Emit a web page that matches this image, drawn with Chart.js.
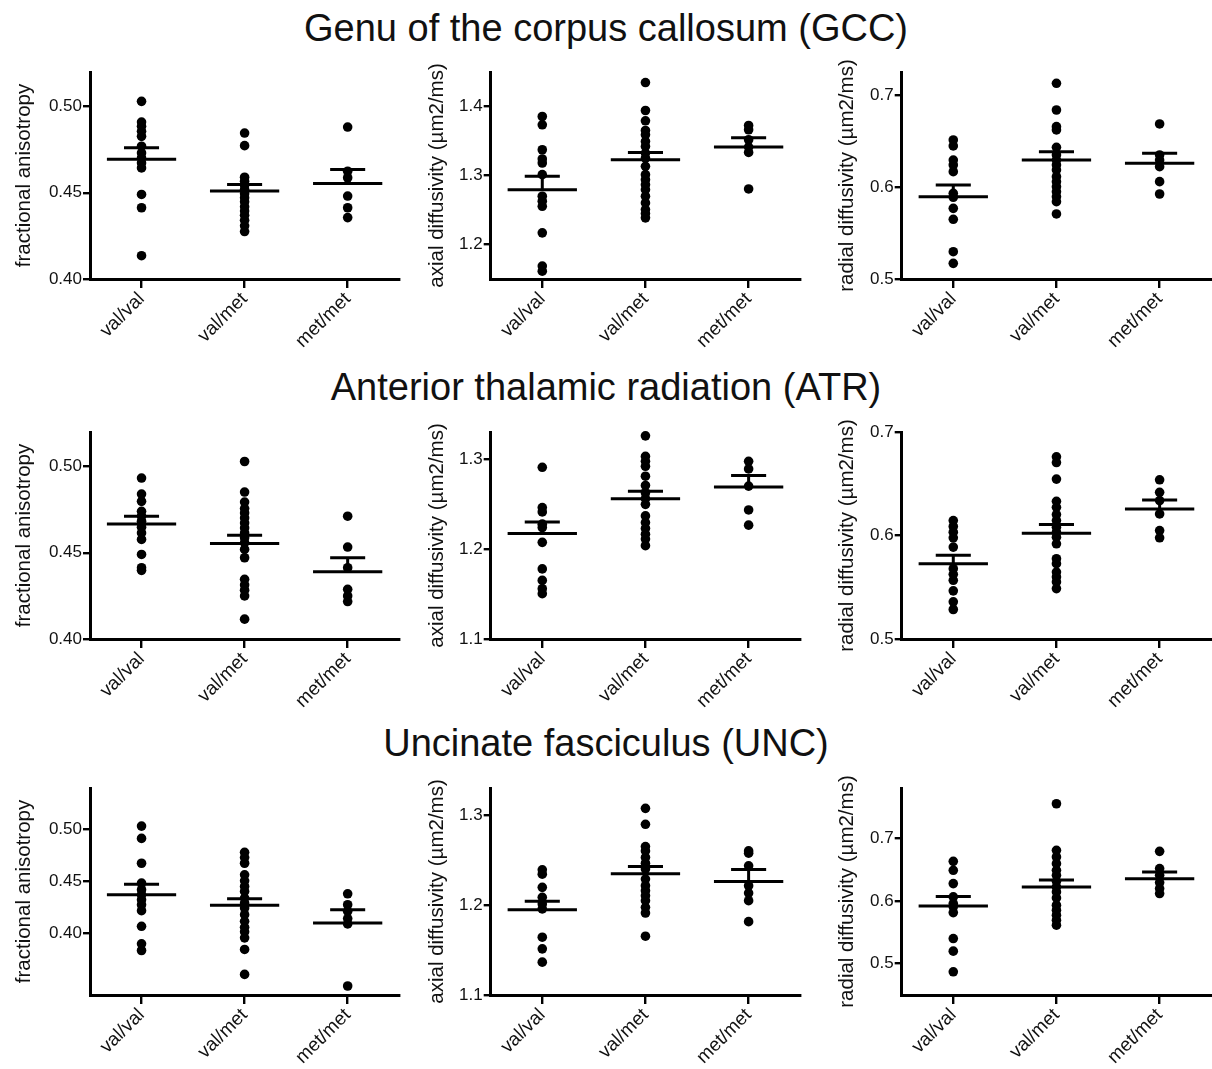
<!DOCTYPE html>
<html>
<head>
<meta charset="utf-8">
<script src="https://cdn.jsdelivr.net/npm/chart.js@4.4.1/dist/chart.umd.min.js"></script>
<style>
  body { margin: 0; background: #fff; width: 1212px; height: 1069px; position: relative; overflow: hidden; }
  canvas { position: absolute; }
  .row-title { position: absolute; left: 0; width: 1212px; text-align: center; font-family: "Liberation Sans", Arial, sans-serif; font-size: 38px; line-height: 38px; color: #111; }
</style>
</head>
<body>
<div class="row-title" style="top:9px">Genu of the corpus callosum (GCC)</div>
<div class="row-title" style="top:368px">Anterior thalamic radiation (ATR)</div>
<div class="row-title" style="top:724px">Uncinate fasciculus (UNC)</div>

<canvas id="gcc-fa"></canvas>
<canvas id="gcc-ad"></canvas>
<canvas id="gcc-rd"></canvas>
<canvas id="atr-fa"></canvas>
<canvas id="atr-ad"></canvas>
<canvas id="atr-rd"></canvas>
<canvas id="unc-fa"></canvas>
<canvas id="unc-ad"></canvas>
<canvas id="unc-rd"></canvas>

<script>
const groups = ["val/val", "val/met", "met/met"];

// GCC
const gccFA = [
    [0.503, 0.491, 0.4885, 0.4856, 0.4827, 0.477, 0.4731, 0.4702, 0.4673, 0.4644, 0.449, 0.4413, 0.4135],
    [0.4846, 0.4773, 0.459, 0.4567, 0.4544, 0.4519, 0.4494, 0.4471, 0.4448, 0.4419, 0.4394, 0.4369, 0.434, 0.4308, 0.4275],
    [0.4881, 0.4625, 0.4587, 0.4481, 0.4413, 0.4356]
];
const gccFAMean = [0.4694, 0.451, 0.4554];
const gccFASem = [0.4761, 0.4548, 0.4635];

const gccAD = [
    [1.3855, 1.3735, 1.3373, 1.3239, 1.3181, 1.3012, 1.2699, 1.2627, 1.2554, 1.2169, 1.1687, 1.1614],
    [1.4347, 1.3942, 1.3793, 1.3653, 1.359, 1.3494, 1.3422, 1.3325, 1.3253, 1.3133, 1.3012, 1.294, 1.2867, 1.2795, 1.2699, 1.2602, 1.2506, 1.2448, 1.2386],
    [1.3725, 1.3663, 1.3518, 1.3412, 1.3335, 1.2805]
];
const gccADMean = [1.2795, 1.3229, 1.3412];
const gccADSem = [1.2988, 1.3335, 1.3547];

const gccRD = [
    [0.6511, 0.6446, 0.6293, 0.6239, 0.6167, 0.5931, 0.5888, 0.5768, 0.5649, 0.5297, 0.517],
    [0.7127, 0.6837, 0.6656, 0.662, 0.6431, 0.6348, 0.6293, 0.6239, 0.6185, 0.6112, 0.6058, 0.6004, 0.5949, 0.5895, 0.5841, 0.5707],
    [0.6685, 0.6348, 0.6293, 0.6221, 0.6058, 0.5924]
];
const gccRDMean = [0.5895, 0.6293, 0.6257];
const gccRDSem = [0.6022, 0.6384, 0.6366];

// ATR
const atrFA = [
    [0.4933, 0.484, 0.4798, 0.474, 0.4712, 0.4683, 0.4648, 0.4615, 0.4577, 0.449, 0.4413, 0.4398],
    [0.5029, 0.4852, 0.4794, 0.4756, 0.4731, 0.4702, 0.4673, 0.4644, 0.4615, 0.4587, 0.4558, 0.4519, 0.4471, 0.4346, 0.4313, 0.4283, 0.425, 0.4115],
    [0.4712, 0.4533, 0.4413, 0.4288, 0.425, 0.4217]
];
const atrFAMean = [0.4667, 0.4554, 0.439];
const atrFASem = [0.4712, 0.4602, 0.4471];

const atrAD = [
    [1.2908, 1.246, 1.2412, 1.2276, 1.2239, 1.2074, 1.1779, 1.1651, 1.1559, 1.1504],
    [1.3257, 1.3029, 1.2974, 1.2919, 1.2809, 1.2706, 1.2625, 1.2559, 1.2496, 1.2368, 1.2294, 1.2228, 1.2165, 1.211, 1.2037],
    [1.2974, 1.289, 1.2699, 1.2434, 1.2265]
];
const atrADMean = [1.2173, 1.2559, 1.2688];
const atrADSem = [1.2301, 1.2643, 1.2816];

const atrRD = [
    [0.6144, 0.6087, 0.6032, 0.5978, 0.5888, 0.5679, 0.5625, 0.5567, 0.5465, 0.5359, 0.5285],
    [0.676, 0.6705, 0.6545, 0.633, 0.6272, 0.6202, 0.6144, 0.608, 0.6032, 0.5984, 0.592, 0.5776, 0.5728, 0.5647, 0.5599, 0.5551, 0.5487],
    [0.6538, 0.6417, 0.6337, 0.6208, 0.6048, 0.5978]
];
const atrRDMean = [0.5728, 0.6022, 0.6256];
const atrRDSem = [0.5808, 0.6106, 0.6343];

// UNC
const uncFA = [
    [0.5032, 0.4913, 0.4673, 0.4481, 0.4417, 0.4369, 0.4321, 0.4272, 0.4215, 0.4064, 0.3894, 0.383],
    [0.4779, 0.4728, 0.4673, 0.4561, 0.4503, 0.4449, 0.4401, 0.4337, 0.4288, 0.424, 0.4176, 0.4112, 0.4054, 0.401, 0.3952, 0.384, 0.3599],
    [0.4378, 0.4272, 0.4208, 0.4138, 0.4087, 0.3487]
];
const uncFAMean = [0.4369, 0.4266, 0.4096];
const uncFASem = [0.4471, 0.433, 0.4224];

const uncAD = [
    [1.2391, 1.2343, 1.2196, 1.2085, 1.2011, 1.1956, 1.1642, 1.1513, 1.1365],
    [1.3074, 1.2897, 1.2649, 1.2601, 1.2528, 1.2465, 1.2399, 1.2288, 1.2214, 1.2159, 1.2103, 1.2048, 1.1974, 1.1911, 1.1653],
    [1.2601, 1.2576, 1.2435, 1.2214, 1.2133, 1.2048, 1.1815]
];
const uncADMean = [1.1948, 1.2347, 1.2262];
const uncADSem = [1.2041, 1.2428, 1.2395];

const uncRD = [
    [0.6631, 0.6488, 0.6276, 0.6064, 0.5958, 0.5905, 0.5814, 0.54, 0.5199, 0.487],
    [0.7549, 0.6806, 0.67, 0.6594, 0.6488, 0.6408, 0.6313, 0.6223, 0.6143, 0.6048, 0.5931, 0.5851, 0.5772, 0.5692, 0.5613],
    [0.679, 0.6515, 0.6408, 0.6292, 0.6196, 0.6117]
];
const uncRDMean = [0.592, 0.6223, 0.6355];
const uncRDSem = [0.6069, 0.6334, 0.6462];

// axis ranges and tick labels
const faTicks = ["0.40", "0.45", "0.50"];
const adTicksGcc = ["1.2", "1.3", "1.4"];
const adTicks = ["1.1", "1.2", "1.3"];
const rdTicks = ["0.5", "0.6", "0.7"];
const gccFARange = [0.40, 0.52];
const gccADRange = [1.15, 1.45];
const gccRDRange = [0.50, 0.725];
const atrFARange = [0.40, 0.52];
const atrADRange = [1.10, 1.33];
const atrRDRange = [0.50, 0.70];
const uncFARange = [0.34, 0.54];
const uncADRange = [1.10, 1.33];
const uncRDRange = [0.45, 0.78];

const faTitle = "fractional anisotropy";
const adTitle = "axial diffusivity (\u00b5m2/ms)";
const rdTitle = "radial diffusivity (\u00b5m2/ms)";

const panels = [
    {id: "gcc-fa", row: 0, col: 0, data: gccFA, mean: gccFAMean, sem: gccFASem, range: gccFARange, ticks: faTicks, title: faTitle},
    {id: "gcc-ad", row: 0, col: 1, data: gccAD, mean: gccADMean, sem: gccADSem, range: gccADRange, ticks: adTicksGcc, title: adTitle},
    {id: "gcc-rd", row: 0, col: 2, data: gccRD, mean: gccRDMean, sem: gccRDSem, range: gccRDRange, ticks: rdTicks, title: rdTitle},
    {id: "atr-fa", row: 1, col: 0, data: atrFA, mean: atrFAMean, sem: atrFASem, range: atrFARange, ticks: faTicks, title: faTitle},
    {id: "atr-ad", row: 1, col: 1, data: atrAD, mean: atrADMean, sem: atrADSem, range: atrADRange, ticks: adTicks, title: adTitle},
    {id: "atr-rd", row: 1, col: 2, data: atrRD, mean: atrRDMean, sem: atrRDSem, range: atrRDRange, ticks: rdTicks, title: rdTitle},
    {id: "unc-fa", row: 2, col: 0, data: uncFA, mean: uncFAMean, sem: uncFASem, range: uncFARange, ticks: faTicks, title: faTitle},
    {id: "unc-ad", row: 2, col: 1, data: uncAD, mean: uncADMean, sem: uncADSem, range: uncADRange, ticks: adTicks, title: adTitle},
    {id: "unc-rd", row: 2, col: 2, data: uncRD, mean: uncRDMean, sem: uncRDSem, range: uncRDRange, ticks: rdTicks, title: rdTitle},
];

// layout (page pixels)
const colLeft = [12, 425, 835];
const axisX = [90, 490.7, 901.7];
const plotTop = [71.7, 431.5, 787.7];
const plotHeight = 207;
const plotWidth = 310;
const padTop = 14;
const padRight = 4;
const xAxisHeight = 72;

const FONT = "'Liberation Sans', Arial, sans-serif";

// mean line + upper SEM whisker, gaps split the segments
function meanSemPoints(mean, sem){
    let pts = [];
    for (let i = 0; i < mean.length; i++){
        pts.push({x: i - 0.336, y: mean[i]}, {x: i + 0.336, y: mean[i]}, {x: i, y: null});
        pts.push({x: i - 0.17, y: sem[i]}, {x: i + 0.17, y: sem[i]}, {x: i, y: null});
        pts.push({x: i, y: mean[i]}, {x: i, y: sem[i]}, {x: i, y: null});
    };
    return pts;
};

function scatterPoints(data){
    let pts = [];
    data.forEach((values, i) => {
        values.forEach(v => pts.push({x: i, y: v}));
    });
    return pts;
};

panels.forEach(panel => {
    const canvas = document.getElementById(panel.id);
    const yWidth = axisX[panel.col] - colLeft[panel.col];
    const width = Math.ceil(yWidth + plotWidth + padRight);
    const height = padTop + plotHeight + xAxisHeight;
    canvas.width = width;
    canvas.height = height;
    canvas.style.width = width + "px";
    canvas.style.height = height + "px";
    canvas.style.left = colLeft[panel.col] + "px";
    canvas.style.top = (plotTop[panel.row] - padTop) + "px";

    new Chart(canvas, {
        type: 'scatter',
        data: {
            datasets: [
                {
                    type: 'line',
                    data: meanSemPoints(panel.mean, panel.sem),
                    borderColor: '#000',
                    borderWidth: 3,
                    borderCapStyle: 'butt',
                    pointRadius: 0,
                    spanGaps: false,
                    fill: false,
                    clip: false,
                },
                {
                    data: scatterPoints(panel.data),
                    backgroundColor: '#000',
                    borderWidth: 0,
                    pointRadius: 4.8,
                    clip: false,
                }
            ]
        },
        options: {
            responsive: false,
            animation: false,
            devicePixelRatio: 1,
            layout: {
                padding: {top: padTop, right: width - yWidth - plotWidth, left: 0, bottom: 0}
            },
            plugins: {
                legend: {display: false},
                tooltip: {enabled: false}
            },
            scales: {
                x: {
                    type: 'linear',
                    min: -0.5,
                    max: 2.5,
                    afterBuildTicks: (scale) => {
                        scale.ticks = groups.map((g, i) => ({value: i}));
                    },
                    afterFit: (scale) => {
                        scale.height = xAxisHeight;
                    },
                    ticks: {
                        callback: (value) => groups[value],
                        maxRotation: 45,
                        minRotation: 45,
                        padding: 0,
                        color: '#111',
                        font: {family: FONT, size: 19}
                    },
                    grid: {
                        drawOnChartArea: false,
                        drawTicks: true,
                        tickLength: 9,
                        color: '#000',
                        lineWidth: 2.4
                    },
                    border: {display: true, color: '#000', width: 3}
                },
                y: {
                    type: 'linear',
                    min: panel.range[0],
                    max: panel.range[1],
                    afterBuildTicks: (scale) => {
                        scale.ticks = panel.ticks.map(t => ({value: parseFloat(t)}));
                    },
                    afterFit: (scale) => {
                        scale.width = yWidth;
                    },
                    ticks: {
                        callback: (value, index) => panel.ticks[index],
                        padding: 1,
                        color: '#111',
                        font: {family: FONT, size: 17}
                    },
                    title: {
                        display: true,
                        text: panel.title,
                        color: '#111',
                        padding: 0,
                        font: {family: FONT, size: 20.5}
                    },
                    grid: {
                        drawOnChartArea: false,
                        drawTicks: true,
                        tickLength: 7,
                        color: '#000',
                        lineWidth: 2.4
                    },
                    border: {display: true, color: '#000', width: 3}
                }
            }
        }
    });
});
</script>
</body>
</html>
